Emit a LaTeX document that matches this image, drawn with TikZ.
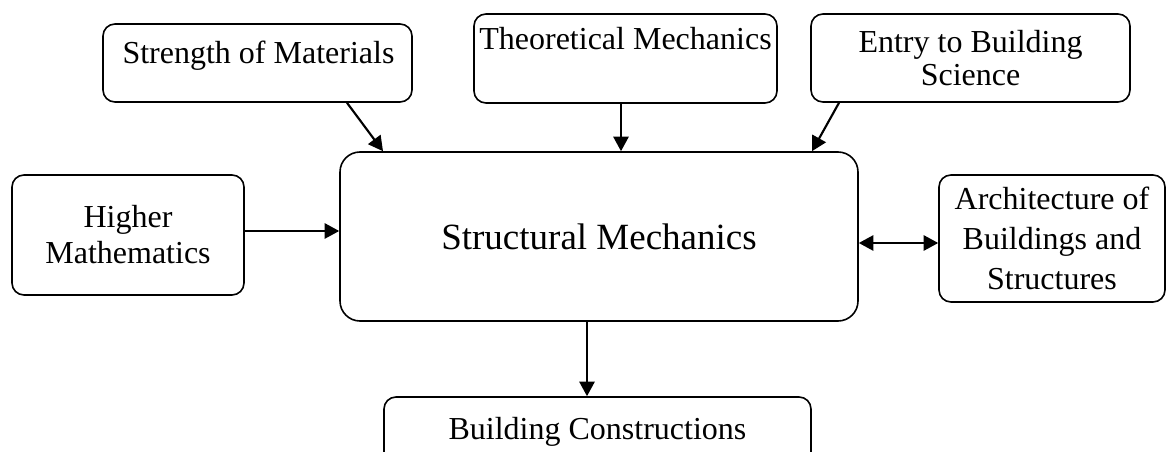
\documentclass[tikz,border=0pt]{standalone}
\usepackage{fontspec}
\setmainfont{Liberation Serif}
\usetikzlibrary{arrows.meta,calc}
\begin{document}
\begin{tikzpicture}[x=0.75pt,y=-0.75pt,
  box/.style={draw,line width=1.2pt,rounded corners=9pt,inner sep=0pt,align=center,font=\fontsize{24}{25}\selectfont},
  bigbox/.style={box,rounded corners=15pt,font=\fontsize{27.75}{30}\selectfont},
  lbl/.style={inner sep=0pt,anchor=base,font=\fontsize{24}{25}\selectfont},
  arr/.style={line width=1.6pt,-{Triangle[length=11pt,width=11.5pt]}},
  darr/.style={line width=1.6pt,{Triangle[length=11pt,width=11.5pt]}-{Triangle[length=11pt,width=11.5pt]}}]
\clip (0,0) rectangle (1167,452);
\fill[white] (0,0) rectangle (1167,452);
% boxes
\node[box,minimum width=231.75pt,minimum height=58.5pt] (som) at (257.5,63) {};
\node[lbl] (somt) at (258.5,64) {Strength of Materials};
\node[box,minimum width=227.25pt,minimum height=66.75pt] (tm) at (625.5,58.5) {};
\node[lbl] (tmt) at (625.5,50) {Theoretical Mechanics};
\node[box,minimum width=239.25pt,minimum height=66pt] (ebs) at (970.5,58) {Entry to Building\\Science};
\node[box,minimum width=174pt,minimum height=90pt,font=\fontsize{24}{27}\selectfont] (hm) at (128,235) {Higher\\Mathematics};
\node[bigbox,minimum width=388.5pt,minimum height=126.75pt] (sm) at (599,236.5) {Structural Mechanics};
\node[box,minimum width=169.5pt,minimum height=95.25pt,font=\fontsize{24}{30}\selectfont] (arch) at (1052,238.5) {Architecture of\\Buildings and\\Structures};
\node[box,minimum width=320.25pt,minimum height=82.5pt] (bc) at (597.5,452) {};
\node[lbl] (bct) at (597.5,439) {Building Constructions};
% connectors
\draw[arr] ($(som.south)+(89.5,0)$) -- ($(sm.north)+(-216,0)$);
\draw[arr] ($(tm.south)+(-4.5,0)$) -- ($(sm.north)+(22,0)$);
\draw[arr] ($(ebs.south)+(-131.5,0)$) -- ($(sm.north)+(213,0)$);
\draw[arr] ($(hm.east)+(0,-4)$) -- ($(sm.west)+(0,-5.5)$);
\draw[darr] ($(sm.east)+(0,6.5)$) -- ($(arch.west)+(0,4.5)$);
\draw[arr] ($(sm.south)+(-12,0)$) -- ($(bc.north)+(-10.5,0)$);
\end{tikzpicture}
\end{document}
